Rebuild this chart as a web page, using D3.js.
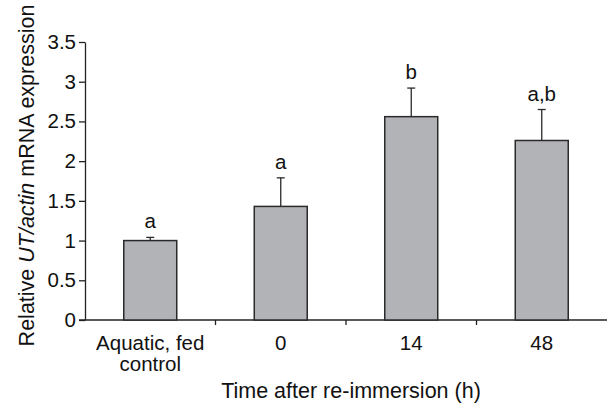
<!DOCTYPE html>
<html>
<head>
<meta charset="utf-8">
<script src="https://cdn.jsdelivr.net/npm/d3@7"></script>
<style>
  body { margin: 0; background: #fff; }
  svg { display: block; font-family: "Liberation Sans", Arial, sans-serif; }
  .axis path, .axis line { stroke: #222; stroke-width: 1.3; }
</style>
</head>
<body>
<div id="chart"></div>
<script>
// Data
const categories = ['Aquatic, fed control', '0', '14', '48'];
const categoryLines = [['Aquatic, fed', 'control'], ['0'], ['14'], ['48']];
const means = [1.0, 1.43, 2.56, 2.26];
const errors = [0.04, 0.36, 0.36, 0.39];
const letters = ['a', 'a', 'b', 'a,b'];
const yTicks = [0, 0.5, 1, 1.5, 2, 2.5, 3, 3.5];

const width = 608, height = 403;
const margin = { top: 42, right: 1, bottom: 83, left: 85 };
const fontSize = '20.5px';
const fontFamily = '"Liberation Sans", Arial, sans-serif';

const svg = d3.select('#chart')
    .append('svg')
    .attr('width', width)
    .attr('height', height);

const x = d3.scaleBand()
    .domain(categories)
    .range([margin.left, width - margin.right])
    .paddingInner(0.594)
    .paddingOuter(0.297);

const y = d3.scaleLinear()
    .domain([0, 3.5])
    .range([height - margin.bottom, margin.top]);

// Y axis
const yAxis = svg.append('g')
    .attr('class', 'axis')
    .attr('transform', `translate(${margin.left},0)`)
    .call(d3.axisLeft(y)
        .tickValues(yTicks)
        .tickSize(6)
        .tickPadding(3)
        .tickSizeOuter(0)
        .tickFormat(d3.format('')));
yAxis.attr('font-size', null).attr('font-family', null);
yAxis.selectAll('text')
    .style('font-size', fontSize)
    .style('font-family', fontFamily)
    .attr('fill', '#111');

// X axis: ticks sit between categories
const xStart = margin.left;
const xEnd = width - margin.right;
const xAxis = svg.append('g').attr('class', 'axis');
xAxis.append('line')
    .attr('x1', xStart - 6).attr('x2', xEnd)
    .attr('y1', y(0)).attr('y2', y(0));
const boundaries = d3.range(1, categories.length).map(i => xStart + i * (xEnd - xStart) / categories.length);
xAxis.selectAll('line.tick')
    .data(boundaries)
    .enter()
    .append('line')
    .attr('class', 'tick')
    .attr('x1', d => d).attr('x2', d => d)
    .attr('y1', y(0)).attr('y2', y(0) + 5);

const center = c => x(c) + x.bandwidth() / 2;

xAxis.selectAll('text.cat')
    .data(categories)
    .enter()
    .append('text')
    .attr('class', 'cat')
    .attr('text-anchor', 'middle')
    .attr('x', d => center(d))
    .attr('y', y(0) + 30)
    .style('font-size', fontSize)
    .style('fill', '#111')
    .each(function(d, i) {
        const t = d3.select(this);
        categoryLines[i].forEach((line, j) => {
            t.append('tspan')
                .attr('x', center(d))
                .attr('dy', j === 0 ? 0 : 21)
                .text(line);
        });
    });

// Bars
const data = categories.map((c, i) => ({ cat: c, mean: means[i], err: errors[i], letter: letters[i] }));

svg.selectAll('rect.bar')
    .data(data)
    .enter()
    .append('rect')
    .attr('class', 'bar')
    .attr('x', d => x(d.cat))
    .attr('y', d => y(d.mean))
    .attr('width', x.bandwidth())
    .attr('height', d => y(0) - y(d.mean))
    .attr('fill', '#b2b3b7')
    .attr('stroke', '#2a2a2a')
    .attr('stroke-width', 1.5);

// Error bars (upper only)
svg.selectAll('line.err')
    .data(data)
    .enter()
    .append('line')
    .attr('class', 'err')
    .attr('x1', d => center(d.cat)).attr('x2', d => center(d.cat))
    .attr('y1', d => y(d.mean)).attr('y2', d => y(d.mean + d.err))
    .attr('stroke', '#2a2a2a')
    .attr('stroke-width', 1.3);

svg.selectAll('line.cap')
    .data(data)
    .enter()
    .append('line')
    .attr('class', 'cap')
    .attr('x1', d => center(d.cat) - 4).attr('x2', d => center(d.cat) + 4)
    .attr('y1', d => y(d.mean + d.err)).attr('y2', d => y(d.mean + d.err))
    .attr('stroke', '#2a2a2a')
    .attr('stroke-width', 1.3);

// Significance letters
svg.selectAll('text.letter')
    .data(data)
    .enter()
    .append('text')
    .attr('class', 'letter')
    .attr('text-anchor', 'middle')
    .attr('x', d => center(d.cat))
    .attr('y', d => y(d.mean + d.err) - 9)
    .style('font-size', fontSize)
    .style('fill', '#111')
    .text(d => d.letter);

// Axis titles
svg.append('text')
    .attr('text-anchor', 'middle')
    .attr('x', 351)
    .attr('y', 398)
    .style('font-size', '21.5px')
    .style('fill', '#111')
    .text('Time after re-immersion (h)');

const yLabel = svg.append('text')
    .attr('text-anchor', 'middle')
    .attr('transform', `translate(34,${(4 + 347) / 2}) rotate(-90)`)
    .style('font-size', '21.5px')
    .style('fill', '#111');
yLabel.append('tspan').text('Relative ');
yLabel.append('tspan').style('font-style', 'italic').text('UT/actin');
yLabel.append('tspan').text(' mRNA expression');
</script>
</body>
</html>
